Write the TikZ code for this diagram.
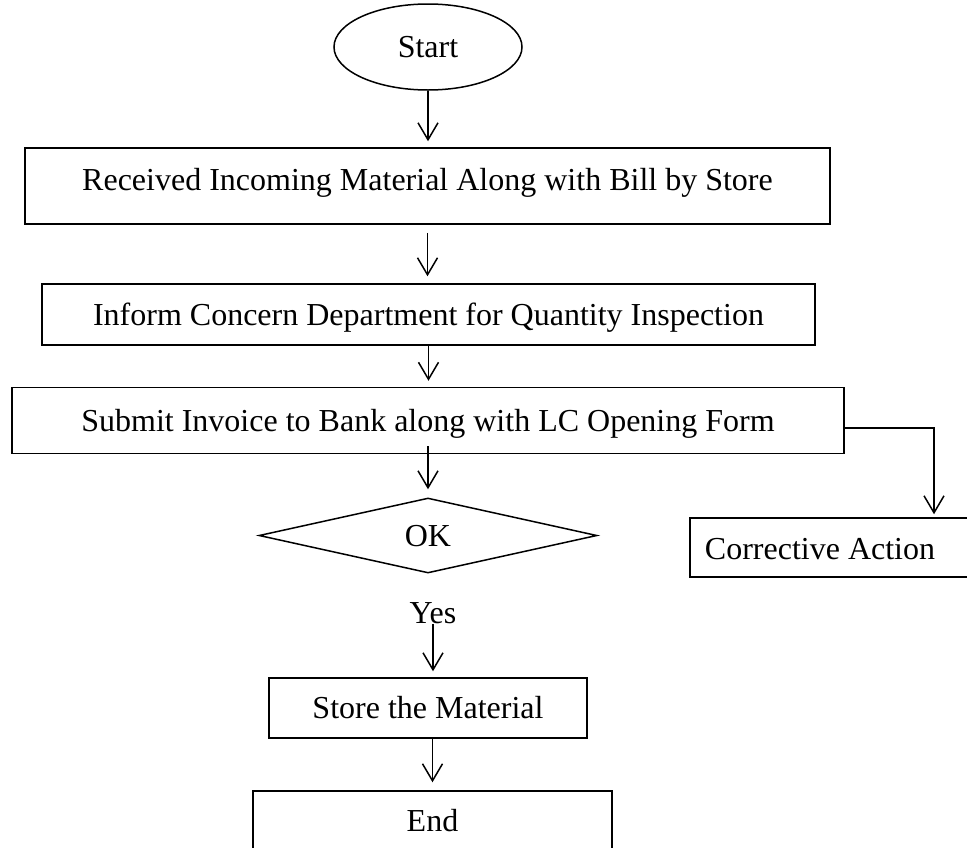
\documentclass[tikz,border=0pt]{standalone}
\usepackage{fontspec}
\setmainfont{Liberation Serif}
\usetikzlibrary{shapes.geometric,arrows.meta}
\begin{document}
\begin{tikzpicture}[x=1pt,y=-1pt,
  every node/.style={font=\fontsize{32}{38}\selectfont, text height=21.2pt, text depth=0pt, inner sep=0pt},
  flowbox/.style={draw, rectangle, line width=1.5pt},
  flowline/.style={line width=1.5pt},
  flowarrow/.style={line width=1.5pt, -{Straight Barb[length=17pt,width=20pt]}},
]
% page frame
\path[use as bounding box] (0,0) rectangle (967,847);
\clip (0,0) rectangle (967,847);
\fill[white] (0,0) rectangle (967,847);

% flow nodes
\node[draw, ellipse, line width=1.5pt, minimum width=188pt, minimum height=86pt] (start) at (428,47) {Start};
\node[flowbox, minimum width=805pt, minimum height=76pt, text depth=13.2pt] (b1) at (427.5,186) {Received Incoming Material Along with Bill by Store};
\node[flowbox, minimum width=773pt, minimum height=61pt] (b2) at (428.5,314.5) {Inform Concern Department for Quantity Inspection};
\node[flowbox, minimum width=832pt, minimum height=66pt] (b3) at (428,420.5) {Submit Invoice to Bank along with LC Opening Form};
\node[draw, diamond, line width=1.5pt, minimum width=338pt, minimum height=75pt] (ok) at (428,535.5) {OK};
\node (yes) at (433,613) {Yes};
\node[flowbox, minimum width=318pt, minimum height=60pt] (store) at (428,708) {Store the Material};
\node[flowbox, minimum width=359pt, minimum height=60pt] (end) at (432.5,821) {End};
\node[flowbox, minimum width=300pt, minimum height=59pt] (ca) at (840,547.5) {};
\node (catext) at (820,549) {Corrective Action};
\coordinate (turn) at (934,428);

% connectors
\draw[flowarrow, shorten >=6pt] (start.south) -- (start.south |- b1.north);
\draw[flowarrow, shorten <=8pt, shorten >=7pt] (b1.south) -- (b1.south |- b2.north);
\draw[flowarrow, shorten >=6pt] (b2.south) -- (b2.south |- b3.north);
\draw[flowarrow, shorten <=-8pt, shorten >=8pt] (b3.south) -- (b3.south |- ok.north);
\draw[flowarrow, shorten >=6pt] (yes.south) -- (yes.south |- store.north);
\draw[flowarrow, shorten >=8pt] (end.north |- store.south) -- (end.north);
\draw[flowarrow, shorten >=3pt] ([yshift=-7.5pt]b3.east) -- (turn) -- (turn |- ca.north);
\end{tikzpicture}
\end{document}
